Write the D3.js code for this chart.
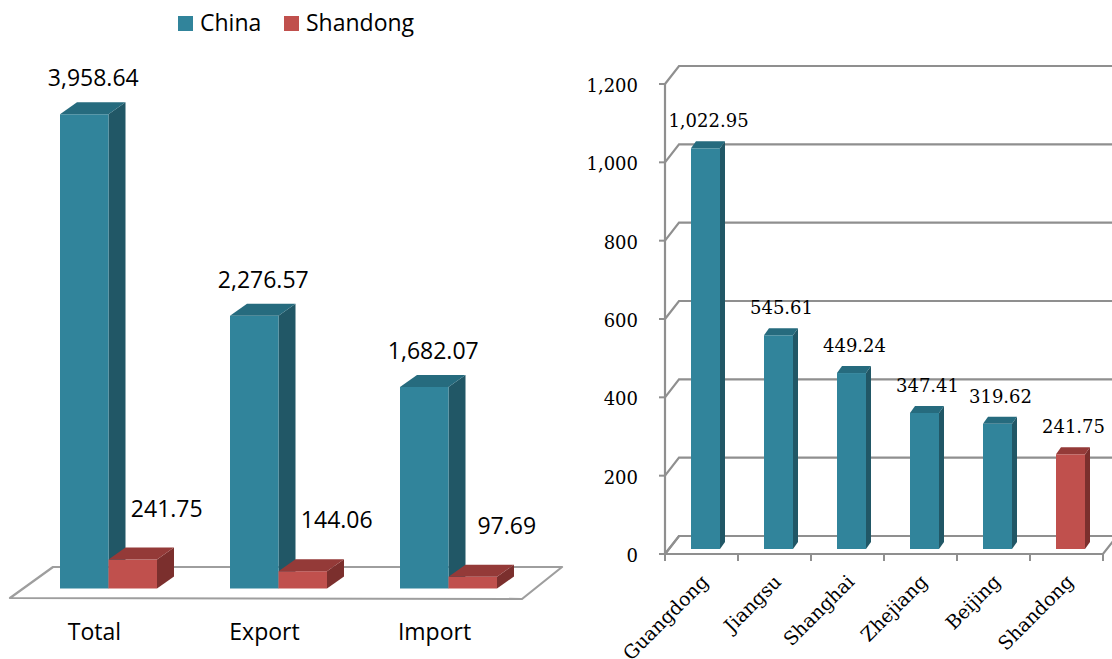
<!DOCTYPE html>
<html>
<head>
<meta charset="utf-8">
<script src="https://cdn.jsdelivr.net/npm/d3@7"></script>
<style>
  body { margin: 0; background: #ffffff; }
  svg { display: block; }
</style>
</head>
<body>
<svg id="chart" width="1112" height="659"></svg>
<script>
// Foreign trade, China vs Shandong (left) and leading provinces (right)
const tradeCategories = ["Total", "Export", "Import"];
const seriesNames = ["China", "Shandong"];
const chinaValues = [3958.64, 2276.57, 1682.07];
const shandongValues = [241.75, 144.06, 97.69];

const provinces = ["Guangdong", "Jiangsu", "Shanghai", "Zhejiang", "Beijing", "Shandong"];
const provinceValues = [1022.95, 545.61, 449.24, 347.41, 319.62, 241.75];
const provinceTicks = [0, 200, 400, 600, 800, 1000, 1200];

const palette = {
  China:    { front: "#31849b", top: "#266b7e", side: "#215766" },
  Shandong: { front: "#c0504d", top: "#943a38", side: "#7b2f2d" }
};

const svg = d3.select("#chart");
const fmtValue = d3.format(",.2f");
const fmtTick = d3.format(",");

// Draws a box-shaped column: front face, side face and lid
function drawColumn(g, x0, w, yTop, yBottom, dx, dy, colors) {
  const x1 = x0 + w;
  g.append("polygon")
    .attr("points", [[x1, yTop], [x1 + dx, yTop + dy], [x1 + dx, yBottom + dy], [x1, yBottom]].join(" "))
    .attr("fill", colors.side);
  g.append("rect")
    .attr("x", x0).attr("y", yTop)
    .attr("width", w).attr("height", yBottom - yTop)
    .attr("fill", colors.front);
  g.append("polygon")
    .attr("points", [[x0, yTop], [x0 + dx, yTop + dy], [x1 + dx, yTop + dy], [x1, yTop]].join(" "))
    .attr("fill", colors.top);
}

/* ---------- Left panel: grouped columns ---------- */
const left = svg.append("g");
const leftFont = "'Open Sans', 'Liberation Sans', sans-serif";

const xGroup = d3.scaleBand().domain(tradeCategories).range([23.5, 533.5]);
const xSeries = d3.scaleBand().domain(seriesNames).range([36.5, 133.5]);
const yLeft = d3.scaleLinear().domain([0, 4000]).range([588.5, 588.5 - 4000 * 0.11979]);
const leftDepth = { dx: 17, dy: -12 };

// floor
left.append("polygon")
  .attr("points", [[10, 598], [522, 599], [562, 567], [53, 567]].join(" "))
  .attr("fill", "#ffffff")
  .attr("stroke", "#9e9e9e")
  .attr("stroke-width", 2.2)
  .attr("stroke-linejoin", "round");

const seriesValues = { China: chinaValues, Shandong: shandongValues };
const labelShift = { China: { x: 9, y: 16 }, Shandong: { x: 34, y: 31 } };

tradeCategories.forEach((cat, i) => {
  seriesNames.forEach(s => {
    const v = seriesValues[s][i];
    const x0 = xGroup(cat) + xSeries(s);
    const w = xSeries.bandwidth();
    drawColumn(left, x0, w, yLeft(v), yLeft(0), leftDepth.dx, leftDepth.dy, palette[s]);
  });
});

tradeCategories.forEach((cat, i) => {
  seriesNames.forEach(s => {
    const v = seriesValues[s][i];
    const x0 = xGroup(cat) + xSeries(s);
    const w = xSeries.bandwidth();
    left.append("text")
      .attr("x", x0 + w / 2 + labelShift[s].x)
      .attr("y", yLeft(v) + leftDepth.dy - labelShift[s].y)
      .attr("text-anchor", "middle")
      .attr("font-family", leftFont)
      .attr("font-size", 23)
      .attr("fill", "#000")
      .text(fmtValue(v));
  });
  left.append("text")
    .attr("x", xGroup(cat) + xSeries("China") + xSeries.bandwidth() - 14)
    .attr("y", 640)
    .attr("text-anchor", "middle")
    .attr("font-family", leftFont)
    .attr("font-size", 23)
    .attr("fill", "#000")
    .text(cat);
});

// legend
const legend = left.append("g");
const legendX = { China: 178, Shandong: 284 };
seriesNames.forEach(s => {
  legend.append("rect")
    .attr("x", legendX[s]).attr("y", 16)
    .attr("width", 15).attr("height", 15)
    .attr("fill", palette[s].front);
  legend.append("text")
    .attr("x", legendX[s] + 22).attr("y", 31)
    .attr("font-family", leftFont)
    .attr("font-size", 23)
    .attr("fill", "#000")
    .text(s);
});

/* ---------- Right panel: provinces ---------- */
const right = svg.append("g");
const rightFont = "'DejaVu Serif', serif";
const gridColor = "#8f8f8f";

const xProv = d3.scaleBand().domain(provinces).range([665, 1103]);
const yProv = d3.scaleLinear().domain([0, 1200]).range([554, 84]);
const wall = { dx: 14, dy: -18 };
const barInset = 26, barWidth = 29;
const barDepth = { dx: 5, dy: -7 };
const barLift = 5;

// floor
right.append("polygon")
  .attr("points", [[665, 554], [1103, 554], [1103 + wall.dx, 554 + wall.dy], [665 + wall.dx, 554 + wall.dy]].join(" "))
  .attr("fill", "#ffffff")
  .attr("stroke", gridColor)
  .attr("stroke-width", 2.2);

// back wall gridlines with their side-wall diagonals
provinceTicks.forEach(t => {
  const y = yProv(t);
  right.append("polyline")
    .attr("points", [[665, y], [665 + wall.dx, y + wall.dy], [1130, y + wall.dy]].join(" "))
    .attr("fill", "none")
    .attr("stroke", gridColor)
    .attr("stroke-width", 2.2);
  right.append("line")
    .attr("x1", 659).attr("x2", 665)
    .attr("y1", y).attr("y2", y)
    .attr("stroke", gridColor).attr("stroke-width", 2);
  right.append("text")
    .attr("x", 638)
    .attr("y", y + 8)
    .attr("text-anchor", "end")
    .attr("font-family", rightFont)
    .attr("font-size", 18)
    .attr("fill", "#000")
    .text(fmtTick(t));
});

// value axis line
right.append("line")
  .attr("x1", 665).attr("x2", 665)
  .attr("y1", yProv(1200)).attr("y2", yProv(0))
  .attr("stroke", gridColor).attr("stroke-width", 2.2);

// category ticks
const boundaries = provinces.map(p => xProv(p)).concat([xProv.range()[1]]);
boundaries.forEach(x => {
  right.append("line")
    .attr("x1", x).attr("x2", x)
    .attr("y1", 554).attr("y2", 561)
    .attr("stroke", gridColor).attr("stroke-width", 2);
});

// columns
provinces.forEach((p, i) => {
  const v = provinceValues[i];
  const colors = p === "Shandong" ? palette.Shandong : palette.China;
  const x0 = xProv(p) + barInset;
  drawColumn(right, x0, barWidth, yProv(v) - barLift, yProv(0) - barLift, barDepth.dx, barDepth.dy, colors);
  right.append("text")
    .attr("x", x0 + barWidth / 2 + 3)
    .attr("y", yProv(v) - barLift + barDepth.dy - 14)
    .attr("text-anchor", "middle")
    .attr("font-family", rightFont)
    .attr("font-size", 18)
    .attr("fill", "#000")
    .text(fmtValue(v));
});

// rotated category labels
provinces.forEach(p => {
  const cx = xProv(p) + xProv.bandwidth() / 2 + 8;
  const cy = 583;
  right.append("text")
    .attr("transform", `translate(${cx},${cy}) rotate(-45)`)
    .attr("text-anchor", "end")
    .attr("font-family", rightFont)
    .attr("font-size", 19)
    .attr("fill", "#000")
    .text(p);
});
</script>
</body>
</html>
